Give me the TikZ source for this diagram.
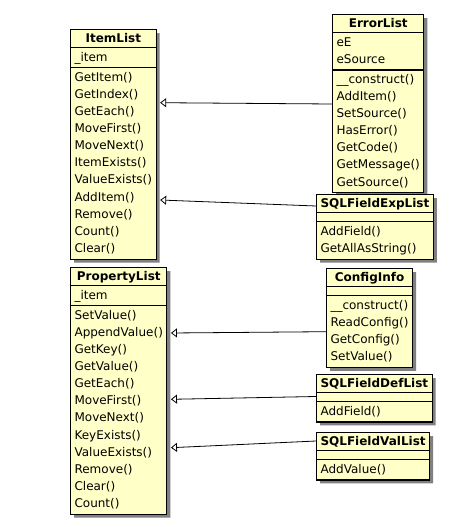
\documentclass[tikz,border=0pt]{standalone}
\usepackage{fontspec}
\setmainfont{DejaVu Sans}
\usetikzlibrary{arrows.meta, shapes.multipart, shadows}

\definecolor{classyellow}{RGB}{255,255,200}

\newcommand{\classtitle}[1]{\rule[-4pt]{0pt}{15pt}\textbf{#1}}
\newcommand{\members}[1]{\begin{tabular}{@{}l@{}}#1\end{tabular}}
\newcommand{\nomembers}{\rule{0pt}{6pt}}

\begin{document}
\begin{tikzpicture}[
    x=1pt, y=-1pt,
    umlclass/.style={rectangle split, rectangle split parts=3,
        rectangle split part align={center,left,left},
        draw=black, line width=1.1pt, fill=classyellow,
        anchor=north west, inner xsep=4pt, inner ysep=1pt,
        font=\fontsize{12}{17.1}\selectfont,
        drop shadow={shadow xshift=3.5pt, shadow yshift=-3.5pt, fill=black!50, opacity=1}},
    generalization/.style={-{Triangle[open, length=6pt, width=9pt]}, line width=0.8pt}
]
    \useasboundingbox (0,0) rectangle (452,527);

    % --- Base classes (left column) ---
    \node[umlclass] (ItemList) at (70,29) {\classtitle{ItemList}
        \nodepart{second}\members{\_item}
        \nodepart{third}\members{GetItem()\\GetIndex()\\GetEach()\\MoveFirst()\\MoveNext()\\ItemExists()\\ValueExists()\\AddItem()\\Remove()\\Count()\\Clear()}};

    \node[umlclass] (PropertyList) at (70,267) {\classtitle{PropertyList}
        \nodepart{second}\members{\_item}
        \nodepart{third}\members{SetValue()\\AppendValue()\\GetKey()\\GetValue()\\GetEach()\\MoveFirst()\\MoveNext()\\KeyExists()\\ValueExists()\\Remove()\\Clear()\\Count()}};

    % --- Derived classes (right column) ---
    \node[umlclass] (ErrorList) at (332,14) {\classtitle{ErrorList}
        \nodepart{second}\members{eE\\eSource}
        \nodepart{third}\members{\_\_construct()\\AddItem()\\SetSource()\\HasError()\\GetCode()\\GetMessage()\\GetSource()}};

    \node[umlclass] (SQLFieldExpList) at (316,194) {\classtitle{SQLFieldExpList}
        \nodepart{second}\nomembers
        \nodepart{third}\members{AddField()\\GetAllAsString()}};

    \node[umlclass] (ConfigInfo) at (326,268) {\classtitle{ConfigInfo}
        \nodepart{second}\nomembers
        \nodepart{third}\members{\_\_construct()\\ReadConfig()\\GetConfig()\\SetValue()}};

    \node[umlclass] (SQLFieldDefList) at (316,374) {\classtitle{SQLFieldDefList}
        \nodepart{second}\nomembers
        \nodepart{third}\members{AddField()}};

    \node[umlclass] (SQLFieldValList) at (316,432) {\classtitle{SQLFieldValList}
        \nodepart{second}\nomembers
        \nodepart{third}\members{AddValue()}};

    % --- Generalization arrows ---
    \draw[generalization] ([yshift=-90pt]ErrorList.north west) -- ([xshift=3.5pt, yshift=-73.7pt]ItemList.north east);
    \draw[generalization] ([yshift=-12pt]SQLFieldExpList.north west) -- ([xshift=3.5pt, yshift=-171pt]ItemList.north east);
    \draw[generalization] ([yshift=-63.7pt]ConfigInfo.north west) -- ([xshift=3.5pt, yshift=-66pt]PropertyList.north east);
    \draw[generalization] ([yshift=-22.5pt]SQLFieldDefList.north west) -- ([xshift=3.5pt, yshift=-132.3pt]PropertyList.north east);
    \draw[generalization] ([yshift=-9pt]SQLFieldValList.north west) -- ([xshift=3.5pt, yshift=-180.7pt]PropertyList.north east);
\end{tikzpicture}
\end{document}
